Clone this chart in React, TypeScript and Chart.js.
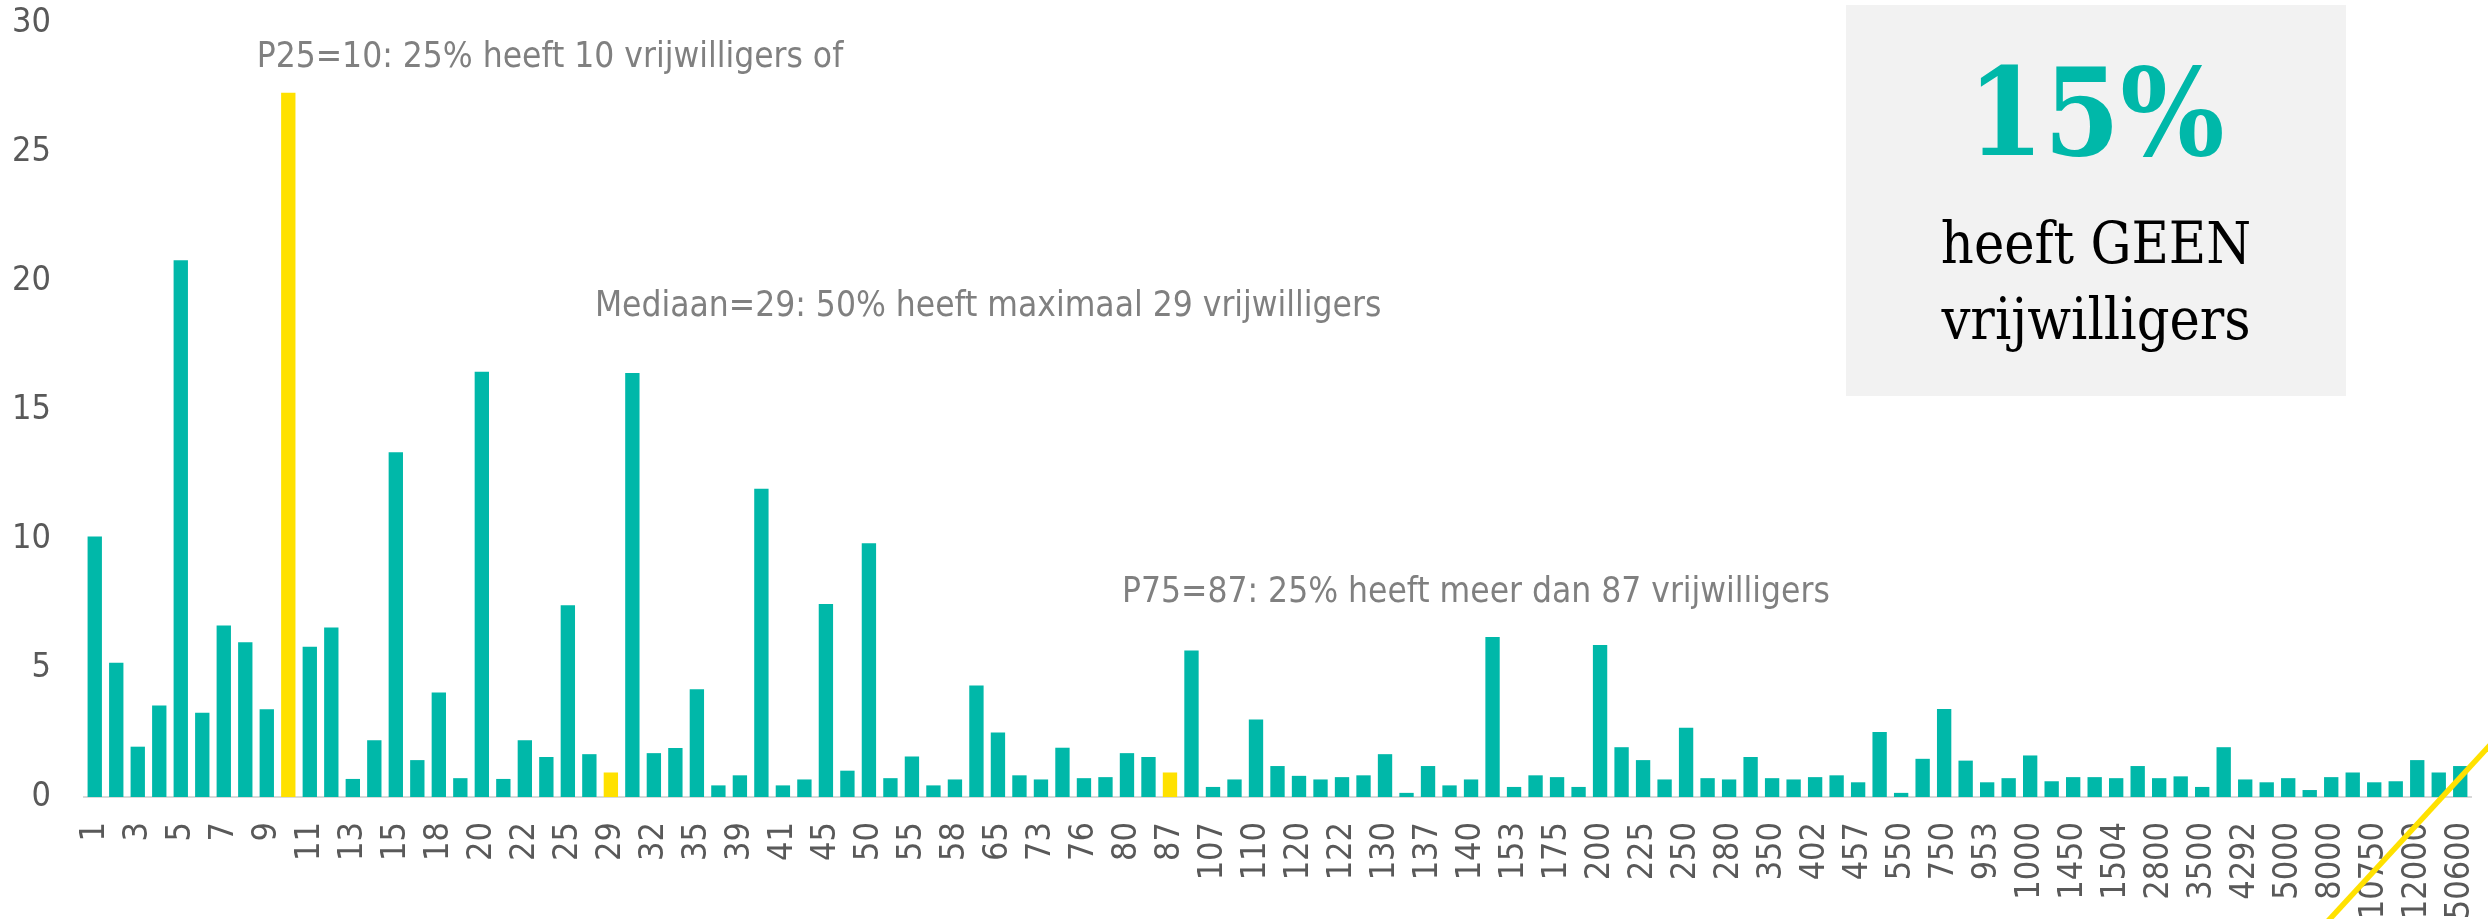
import React, { useEffect, useRef } from "react";
import { Chart, registerables } from "chart.js";

Chart.register(...registerables);

// number of volunteers (category) — only every other label is displayed
const categories: string[] = [
  "1", "2", "3", "4", "5", "6", "7", "8", "9", "10",
  "11", "12", "13", "14", "15", "16", "18", "19", "20", "21",
  "22", "23", "25", "27", "29", "30", "32", "33", "35", "36",
  "39", "40", "41", "43", "45", "48", "50", "52", "55", "57",
  "58", "60", "65", "70", "73", "75", "76", "78", "80", "85",
  "87", "100", "107", "108", "110", "115", "120", "121", "122", "125",
  "130", "135", "137", "138", "140", "150", "153", "160", "175", "180",
  "200", "220", "225", "230", "250", "260", "280", "300", "350", "400",
  "402", "450", "457", "500", "550", "600", "750", "800", "953", "975",
  "1000", "1200", "1450", "1500", "1504", "2000", "2800", "3000", "3500", "4000",
  "4292", "4500", "5000", "6000", "8000", "10000", "10750", "11000", "12000", "15000",
  "50600",
];

// percentage of organisations
const percentages: number[] = [
  10.1, 5.2, 1.95, 3.55, 20.8, 3.27, 6.65, 6.0, 3.4, 27.3,
  5.82, 6.57, 0.7, 2.2, 13.36, 1.43, 4.05, 0.73, 16.48, 0.7,
  2.2, 1.55, 7.43, 1.66, 0.95, 16.43, 1.7, 1.9, 4.18, 0.45,
  0.84, 11.95, 0.45, 0.68, 7.48, 1.02, 9.84, 0.73, 1.57, 0.45,
  0.68, 4.32, 2.5, 0.84, 0.68, 1.91, 0.73, 0.77, 1.7, 1.55,
  0.95, 5.68, 0.39, 0.68, 3.0, 1.2, 0.82, 0.68, 0.77, 0.84,
  1.66, 0.16, 1.2, 0.45, 0.68, 6.2, 0.39, 0.84, 0.77, 0.39,
  5.89, 1.93, 1.43, 0.68, 2.68, 0.73, 0.68, 1.55, 0.73, 0.68,
  0.77, 0.84, 0.57, 2.52, 0.16, 1.48, 3.41, 1.41, 0.57, 0.73,
  1.61, 0.61, 0.77, 0.77, 0.73, 1.2, 0.73, 0.8, 0.39, 1.93,
  0.68, 0.57, 0.73, 0.27, 0.77, 0.95, 0.57, 0.61, 1.43, 0.95,
  1.2,
];

// P25, median, P75 categories
const highlightedCategories: string[] = ["10", "29", "87"];

const yMin = 0;
const yMax = 30;
const yStep = 5;

const annotationTexts: string[] = [
  "P25=10: 25% heeft 10 vrijwilligers of",
  "Mediaan=29: 50% heeft maximaal 29 vrijwilligers",
  "P75=87: 25% heeft meer dan 87 vrijwilligers",
];
// anchor (category index, value) of each annotation's left baseline
const annotationX: number[] = [7.53, 23.26, 47.77];
const annotationY: number[] = [28.3, 18.63, 7.54];

const boxTitle = "15%";
const boxLines: string[] = ["heeft GEEN", "vrijwilligers"];

const TEAL = "#00B8A9";
const YELLOW = "#FFE100";
const TICK_FONT = "'DejaVu Sans Condensed', 'DejaVu Sans', sans-serif";

const W = 2488;
const H = 919;

const overlayPlugin = {
  id: "overlay",
  afterDraw(chart: any) {
    const ctx: CanvasRenderingContext2D = chart.ctx;
    const xs = chart.scales.x;
    const ys = chart.scales.y;
    ctx.save();
    // annotations
    ctx.fillStyle = "#808080";
    ctx.font = "35px " + TICK_FONT;
    ctx.textAlign = "left";
    ctx.textBaseline = "alphabetic";
    annotationTexts.forEach((t, i) => {
      ctx.fillText(t, xs.getPixelForValue(annotationX[i]), ys.getPixelForValue(annotationY[i]));
    });

    // info box
    const bx = 1846, by = 5, bw = 500, bh = 391;
    ctx.fillStyle = "#F2F2F2";
    ctx.fillRect(bx, by, bw, bh);
    const cx = bx + bw / 2;
    ctx.textAlign = "center";
    ctx.fillStyle = TEAL;
    ctx.font = "bold 122px 'DejaVu Serif Condensed', 'DejaVu Serif', serif";
    ctx.fillText(boxTitle, cx, 155);
    ctx.fillStyle = "#000000";
    ctx.font = "57px 'DejaVu Serif Condensed', 'DejaVu Serif', serif";
    ctx.fillText(boxLines[0], cx, 263);
    ctx.fillText(boxLines[1], cx, 339);

    // decorative yellow diagonal
    ctx.strokeStyle = YELLOW;
    ctx.lineWidth = 5.5;
    ctx.beginPath();
    ctx.moveTo(2328, 921);
    ctx.lineTo(2490, 745);
    ctx.stroke();
    ctx.restore();
  },
};

export default function App() {
  const ref = useRef<HTMLCanvasElement | null>(null);

  useEffect(() => {
    if (!ref.current) return;
    const colors = categories.map((c) => (highlightedCategories.includes(c) ? YELLOW : TEAL));
    const chart = new Chart(ref.current, {
      type: "bar",
      data: {
        labels: categories,
        datasets: [
          {
            data: percentages,
            backgroundColor: colors,
            borderWidth: 0,
            categoryPercentage: 1,
            barPercentage: 0.667,
          },
        ],
      },
      options: {
        animation: false,
        responsive: false,
        devicePixelRatio: 1,
        layout: { padding: { top: 23, right: 17, left: 0, bottom: 0 } },
        plugins: {
          legend: { display: false },
          tooltip: { enabled: false },
          title: { display: false },
        },
        scales: {
          x: {
            grid: { display: false, drawTicks: false },
            border: { display: true, color: "#D9D9D9", width: 2 },
            ticks: {
              autoSkip: false,
              minRotation: 90,
              maxRotation: 90,
              padding: 25,
              color: "#595959",
              font: { family: TICK_FONT, size: 34 },
              callback: (_v: any, i: number) => (i % 2 === 0 ? categories[i] : ""),
            },
            afterFit: (s: any) => {
              s.height = 122;
              s.paddingLeft = 0;
              s.paddingRight = 0;
            },
          },
          y: {
            min: yMin,
            max: yMax,
            grid: { display: false, drawTicks: false },
            border: { display: false },
            ticks: {
              stepSize: yStep,
              padding: 33,
              color: "#595959",
              font: { family: TICK_FONT, size: 34 },
            },
            afterFit: (s: any) => {
              s.width = 84;
              s.paddingTop = 0;
              s.paddingBottom = 0;
            },
          },
        },
      },
      plugins: [overlayPlugin],
    });
    return () => chart.destroy();
  }, []);

  return (
    <div style={{ position: "absolute", left: 0, top: 0, width: W, height: H, background: "#ffffff" }}>
      <canvas ref={ref} width={W} height={H} style={{ width: W, height: H, display: "block" }} />
    </div>
  );
}
